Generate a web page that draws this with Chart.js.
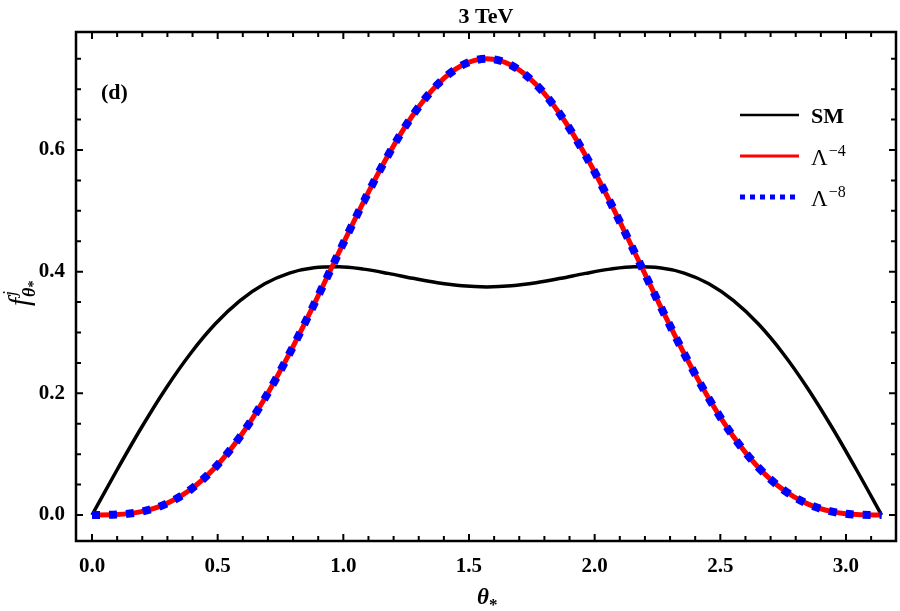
<!DOCTYPE html>
<html>
<head>
<meta charset="utf-8">
<script src="https://cdn.jsdelivr.net/npm/chart.js@4.4.1/dist/chart.umd.min.js"></script>
<style>
  html, body { margin: 0; padding: 0; background: #fff; }
  #wrap { width: 900px; height: 611px; }
</style>
</head>
<body>
<div id="wrap"><canvas id="angular-chart" width="900" height="611"></canvas></div>
<script>
// theta_* sample points (k*pi/32)
const theta = [
  0, 0.0982, 0.1963, 0.2945, 0.3927, 0.4909, 0.5890, 0.6872, 0.7854, 0.8836,
  0.9817, 1.0799, 1.1781, 1.2763, 1.3744, 1.4726, 1.5708, 1.6690, 1.7671, 1.8653,
  1.9635, 2.0617, 2.1598, 2.2580, 2.3562, 2.4544, 2.5525, 2.6507, 2.7489, 2.8471,
  2.9452, 3.0434, 3.1416
];
const smValues = [
  0, 0.0732, 0.1435, 0.2085, 0.2660, 0.3143, 0.3524, 0.3801, 0.3977, 0.4065,
  0.4080, 0.4042, 0.3972, 0.3891, 0.3818, 0.3768, 0.3750, 0.3768, 0.3818, 0.3891,
  0.3972, 0.4042, 0.4080, 0.4065, 0.3977, 0.3801, 0.3524, 0.3143, 0.2660, 0.2085,
  0.1435, 0.0732, 0
];
const lambda4Values = [
  0, 0.0007, 0.0056, 0.0183, 0.0420, 0.0786, 0.1286, 0.1915, 0.2652, 0.3464,
  0.4311, 0.5145, 0.5914, 0.6572, 0.7076, 0.7392, 0.7500, 0.7392, 0.7076, 0.6572,
  0.5914, 0.5145, 0.4311, 0.3464, 0.2652, 0.1915, 0.1286, 0.0786, 0.0420, 0.0183,
  0.0056, 0.0007, 0
];
const lambda8Values = [
  0, 0.0007, 0.0056, 0.0183, 0.0420, 0.0786, 0.1286, 0.1915, 0.2652, 0.3464,
  0.4311, 0.5145, 0.5914, 0.6572, 0.7076, 0.7392, 0.7500, 0.7392, 0.7076, 0.6572,
  0.5914, 0.5145, 0.4311, 0.3464, 0.2652, 0.1915, 0.1286, 0.0786, 0.0420, 0.0183,
  0.0056, 0.0007, 0
];

const xTickValues = [0, 0.5, 1.0, 1.5, 2.0, 2.5, 3.0];
const yTickValues = [0, 0.2, 0.4, 0.6];
const xMinorTicks = [0, 0.1, 0.2, 0.3, 0.4, 0.5, 0.6, 0.7, 0.8, 0.9, 1.0, 1.1, 1.2, 1.3, 1.4, 1.5,
  1.6, 1.7, 1.8, 1.9, 2.0, 2.1, 2.2, 2.3, 2.4, 2.5, 2.6, 2.7, 2.8, 2.9, 3.0, 3.1];
const yMinorTicks = [0, 0.05, 0.1, 0.15, 0.2, 0.25, 0.3, 0.35, 0.4, 0.45, 0.5, 0.55, 0.6, 0.65, 0.7, 0.75];

const serif = '"Liberation Serif", "DejaVu Serif", serif';

const toPoints = vals => theta.map((t, i) => ({ x: t, y: vals[i] }));

// draws a run of text pieces: [text, font, dy, extraGap]
function drawPieces(ctx, x, y, pieces) {
  let cx = x;
  for (const p of pieces) {
    ctx.font = p[1];
    ctx.fillText(p[0], cx, y + (p[2] || 0));
    cx += ctx.measureText(p[0]).width + (p[3] || 0);
  }
}

const framePlugin = {
  id: 'frame',
  afterDraw(chart) {
    const ctx = chart.ctx;
    const a = chart.chartArea;
    const xs = chart.scales.x, ys = chart.scales.y;
    ctx.save();
    ctx.strokeStyle = '#000';
    ctx.fillStyle = '#000';

    // ticks (inward, all four sides)
    ctx.lineWidth = 2;
    ctx.beginPath();
    for (const v of xMinorTicks) {
      const px = xs.getPixelForValue(v);
      const len = xTickValues.some(t => Math.abs(t - v) < 1e-6) ? 7 : 5;
      ctx.moveTo(px, a.bottom); ctx.lineTo(px, a.bottom - len);
      ctx.moveTo(px, a.top); ctx.lineTo(px, a.top + len);
    }
    for (const v of yMinorTicks) {
      const py = ys.getPixelForValue(v);
      const len = yTickValues.some(t => Math.abs(t - v) < 1e-6) ? 7 : 5;
      ctx.moveTo(a.left, py); ctx.lineTo(a.left + len, py);
      ctx.moveTo(a.right, py); ctx.lineTo(a.right - len, py);
    }
    ctx.stroke();

    // frame
    ctx.lineWidth = 2.5;
    ctx.strokeRect(a.left, a.top, a.right - a.left, a.bottom - a.top);

    // title
    ctx.textAlign = 'center';
    ctx.textBaseline = 'alphabetic';
    ctx.font = 'bold 22px ' + serif;
    ctx.fillText('3 TeV', (a.left + a.right) / 2, 23);

    // panel tag
    ctx.textAlign = 'left';
    ctx.fillText('(d)', 101, 99);

    // x title theta_*
    drawPieces(ctx, 477, 604, [
      ['\u03B8', 'italic bold 23px ' + serif, 0],
      ['*', 'bold 17px ' + serif, 6]
    ]);

    // y title f^j_{theta_*}
    ctx.save();
    ctx.translate(29, 306);
    ctx.rotate(-Math.PI / 2);
    ctx.font = 'italic 29px ' + serif;
    ctx.fillText('f', 0, 0);
    const fw = ctx.measureText('f').width;
    ctx.font = 'italic 18px ' + serif;
    ctx.fillText('j', fw + 2, -13);
    drawPieces(ctx, fw + 1, 6, [
      ['\u03B8', 'italic bold 18px ' + serif, 0],
      ['*', 'bold 14px ' + serif, 3]
    ]);
    ctx.restore();

    // legend
    const lx0 = 740, lx1 = 799, tx = 811;
    ctx.lineCap = 'butt';
    ctx.strokeStyle = '#000'; ctx.lineWidth = 2.5;
    ctx.beginPath(); ctx.moveTo(lx0, 115); ctx.lineTo(lx1, 115); ctx.stroke();
    ctx.strokeStyle = '#ff0000'; ctx.lineWidth = 3;
    ctx.beginPath(); ctx.moveTo(lx0, 156); ctx.lineTo(lx1, 156); ctx.stroke();
    ctx.strokeStyle = '#0000ff'; ctx.lineWidth = 5;
    ctx.setLineDash([5, 5]);
    ctx.beginPath(); ctx.moveTo(lx0, 197); ctx.lineTo(lx1, 197); ctx.stroke();
    ctx.setLineDash([]);

    ctx.fillStyle = '#000';
    ctx.font = 'bold 22px ' + serif;
    ctx.fillText('SM', tx, 123);
    drawPieces(ctx, tx, 165, [
      ['\u039B', '23px ' + serif, 0, 1],
      ['\u22124', '16px ' + serif, -9]
    ]);
    drawPieces(ctx, tx, 206, [
      ['\u039B', '23px ' + serif, 0, 1],
      ['\u22128', '16px ' + serif, -9]
    ]);
    ctx.restore();
  }
};

const config = {
  type: 'line',
  data: {
    datasets: [
      {
        label: '\u039B\u207B\u2078',
        data: toPoints(lambda8Values),
        borderColor: '#0000ff',
        borderWidth: 8,
        borderDash: [8, 9],
        borderCapStyle: 'butt',
        pointRadius: 0,
        fill: false,
        cubicInterpolationMode: 'monotone',
        order: 0
      },
      {
        label: '\u039B\u207B\u2074',
        data: toPoints(lambda4Values),
        borderColor: '#ff0000',
        borderWidth: 5,
        pointRadius: 0,
        fill: false,
        cubicInterpolationMode: 'monotone',
        order: 1
      },
      {
        label: 'SM',
        data: toPoints(smValues),
        borderColor: '#000000',
        borderWidth: 3.5,
        pointRadius: 0,
        fill: false,
        cubicInterpolationMode: 'monotone',
        order: 2
      }
    ]
  },
  options: {
    responsive: false,
    animation: false,
    layout: { padding: { left: 0, right: 4, top: 32, bottom: 0 } },
    plugins: { legend: { display: false }, tooltip: { enabled: false } },
    scales: {
      x: {
        type: 'linear',
        min: -0.0637,
        max: 3.199,
        afterBuildTicks: s => { s.ticks = xTickValues.map(v => ({ value: v })); },
        afterFit: s => { s.height = 70; },
        grid: { display: false },
        border: { display: false },
        ticks: {
          autoSkip: false,
          maxRotation: 0,
          padding: 5,
          color: '#000',
          font: { family: serif, size: 21, weight: 'bold' },
          callback: v => v.toFixed(1)
        }
      },
      y: {
        type: 'linear',
        min: -0.0427,
        max: 0.794,
        afterBuildTicks: s => { s.ticks = yTickValues.map(v => ({ value: v })); },
        afterFit: s => { s.width = 76; },
        grid: { display: false },
        border: { display: false },
        ticks: {
          autoSkip: false,
          padding: 3,
          color: '#000',
          font: { family: serif, size: 21, weight: 'bold' },
          callback: v => v.toFixed(1)
        }
      }
    }
  },
  plugins: [framePlugin]
};

const ctx = document.getElementById('angular-chart').getContext('2d');
window.angularChart = new Chart(ctx, config);
</script>
</body>
</html>
